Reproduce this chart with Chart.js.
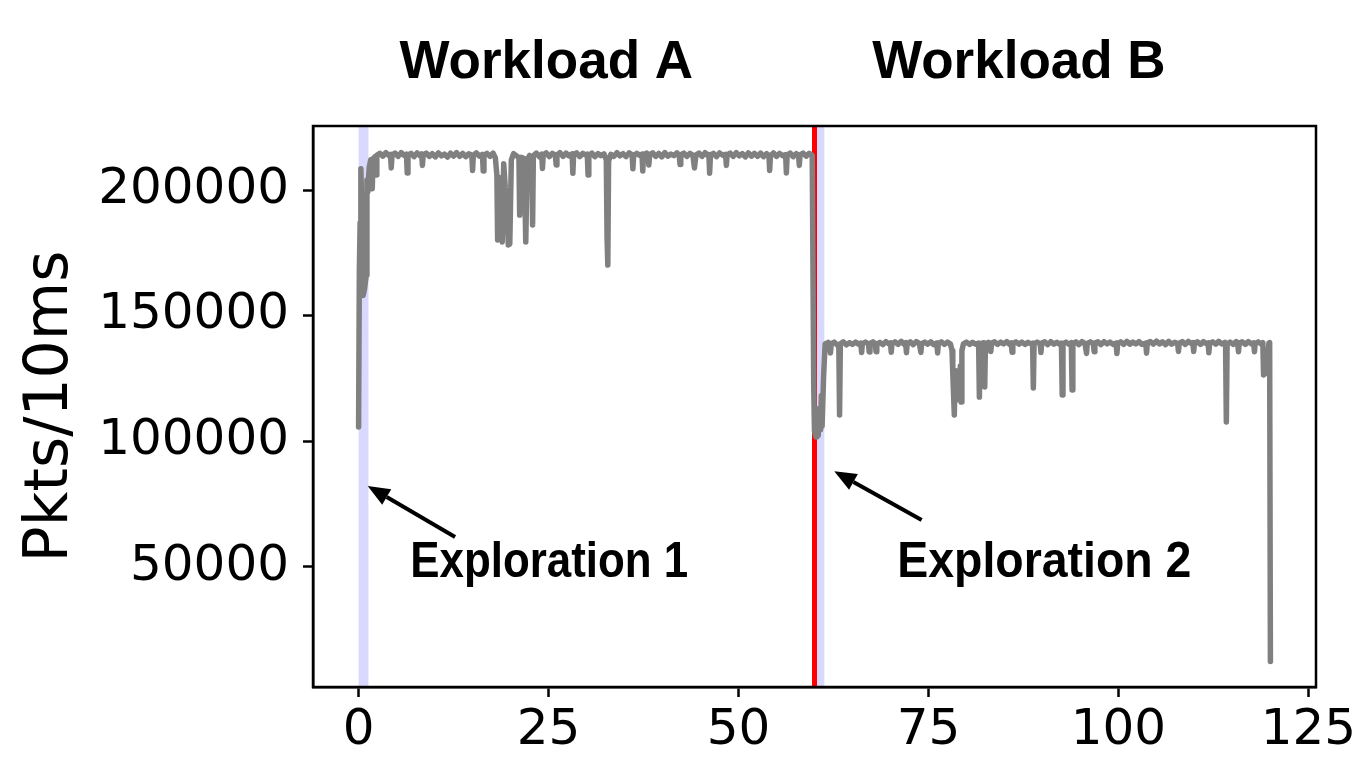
<!DOCTYPE html>
<html>
<head>
<meta charset="utf-8">
<script src="https://cdn.jsdelivr.net/npm/chart.js@4/dist/chart.umd.min.js"></script>
<style>
  body { margin: 0; background: #fff; }
  canvas { display: block; }
</style>
</head>
<body>
<canvas id="throughputChart" width="1365" height="762"></canvas>
<script>
// seconds / packets per 10ms
const timeA = [0, 0.1, 0.2, 0.3, 0.4, 0.5, 0.6, 0.8, 1.0, 1.1,
  1.2, 1.4, 1.6, 1.8, 1.9, 2.2, 2.3, 2.4, 2.8, 3.2,
  3.6, 4.0, 4.2, 4.3, 4.4, 4.8, 5.2, 5.6, 6.0, 6.3,
  6.4, 6.5, 6.9, 7.3, 7.7, 8.1, 8.3, 8.4, 8.5, 8.9,
  9.3, 9.7, 10.1, 10.5, 10.9, 11.3, 11.7, 12.1, 12.5, 12.9,
  13.3, 13.7, 14.1, 14.5, 14.9, 15.0, 15.1, 15.5, 15.9, 16.3,
  16.4, 16.5, 16.9, 17.3, 17.7, 18.0, 18.2, 18.3, 18.5, 18.7,
  18.9, 19.1, 19.3, 19.5, 19.7, 19.9, 20.1, 20.4, 20.8, 21.1,
  21.2, 21.4, 21.8, 22.0, 22.2, 22.5, 22.8, 22.9, 23.0, 23.4,
  23.8, 24.1, 24.2, 24.3, 24.7, 25.1, 25.5, 25.9, 26.0, 26.1,
  26.5, 26.9, 27.3, 27.7, 28.1, 28.2, 28.3, 28.7, 29.1, 29.5,
  29.9, 30.1, 30.2, 30.3, 30.7, 31.1, 31.5, 31.9, 32.3, 32.6,
  32.7, 32.8, 32.9, 33.2, 33.6, 34.0, 34.4, 34.8, 35.2, 35.6,
  36.0, 36.1, 36.2, 36.6, 37.0, 37.3, 37.4, 37.5, 37.9, 38.1,
  38.2, 38.3, 38.7, 39.1, 39.5, 39.9, 40.3, 40.7, 41.1, 41.5,
  41.9, 42.2, 42.3, 42.4, 42.8, 43.2, 43.6, 44.0, 44.2, 44.4,
  44.8, 45.2, 45.6, 46.0, 46.1, 46.2, 46.3, 46.7, 47.1, 47.5,
  47.9, 48.3, 48.4, 48.5, 48.9, 49.3, 49.7, 50.1, 50.5, 50.9,
  51.3, 51.7, 52.1, 52.5, 52.9, 53.3, 53.7, 54.0, 54.1, 54.2,
  54.6, 55.0, 55.4, 55.8, 56.2, 56.3, 56.4, 56.8, 57.2, 57.6,
  57.9, 58.0, 58.1, 58.5, 58.9, 59.3, 59.7];
const pktsA = [105600, 168000, 187000, 208500, 195000, 162000, 158000, 161000, 166000, 204000,
  199000, 209000, 212000, 200500, 212500, 213400, 206000, 213800, 214600, 213500,
  214900, 213700, 214200, 208800, 214000, 214700, 213400, 214900, 213800, 214300,
  206800, 214000, 214600, 213300, 214800, 213600, 214400, 209800, 214100, 214700,
  213400, 214500, 213200, 214800, 213600, 214300, 213100, 214700, 213500, 214900,
  213400, 214600, 213300, 214400, 213900, 207800, 213700, 214800, 213500, 214200,
  207600, 213900, 214600, 213400, 214700, 212800, 206000, 180100, 205000, 186000,
  179300, 210500, 201000, 195000, 178100, 178500, 212000, 214500, 213600, 212900,
  190000, 213000, 212500, 179300, 212000, 213800, 212500, 186100, 213600, 214700,
  213200, 214300, 208600, 214000, 214800, 213300, 214600, 214000, 210000, 213800,
  214900, 213400, 214700, 213600, 214400, 206700, 214000, 214800, 213300, 214600,
  213900, 214300, 206000, 213800, 214700, 213300, 214500, 213700, 214400, 212000,
  181000, 170100, 211500, 214200, 213400, 214900, 213600, 214500, 213300, 214800,
  214000, 208500, 213700, 214600, 213800, 214300, 207600, 213900, 214700, 213800,
  210000, 214200, 214800, 213400, 214600, 213200, 214900, 213500, 214300, 213700,
  214800, 213900, 210200, 214100, 214700, 213400, 214600, 213800, 208800, 214000,
  214700, 213400, 214900, 213600, 214100, 206700, 213800, 214600, 213300, 214800,
  213900, 214200, 209800, 214000, 214700, 213400, 214900, 213600, 214500, 213200,
  214800, 213500, 214600, 213400, 214700, 213300, 214500, 213800, 207800, 213600,
  214800, 213400, 214600, 213700, 214100, 206800, 213900, 214700, 213300, 214500,
  213800, 209800, 214000, 214700, 213500, 214600, 213800];

const timeB = [59.9, 60.0, 60.2, 60.3, 60.5, 60.6, 60.8, 60.9, 61.0, 61.2,
  61.4, 61.8, 62.0, 62.1, 62.2, 62.6, 63.0, 63.2, 63.3, 63.4,
  63.8, 64.2, 64.6, 65.0, 65.4, 65.8, 66.1, 66.2, 66.3, 66.7,
  67.1, 67.2, 67.3, 67.7, 68.0, 68.1, 68.2, 68.6, 69.0, 69.4,
  69.8, 70.0, 70.1, 70.2, 70.6, 71.0, 71.4, 71.8, 72.0, 72.1,
  72.2, 72.6, 73.0, 73.4, 73.8, 74.0, 74.1, 74.5, 74.9, 75.3,
  75.7, 76.1, 76.2, 76.3, 76.7, 77.1, 77.5, 77.9, 78.1, 78.2,
  78.4, 78.5, 78.6, 78.8, 78.9, 79.0, 79.2, 79.3, 79.4, 79.6,
  80.0, 80.4, 80.8, 81.2, 81.6, 81.7, 81.8, 82.2, 82.3, 82.4,
  82.5, 82.9, 83.1, 83.2, 83.3, 83.7, 84.1, 84.5, 84.9, 85.3,
  85.7, 85.9, 86.0, 86.1, 86.5, 86.9, 87.3, 87.7, 88.1, 88.5,
  88.7, 88.8, 88.9, 89.3, 89.7, 89.8, 89.9, 90.3, 90.7, 91.1,
  91.5, 91.9, 92.3, 92.5, 92.6, 92.7, 93.1, 93.5, 93.8, 93.9,
  94.0, 94.4, 94.8, 95.2, 95.6, 95.8, 95.9, 96.3, 96.7, 96.8,
  96.9, 97.3, 97.7, 98.1, 98.5, 98.9, 99.3, 99.7, 99.8, 99.9,
  100.3, 100.7, 101.1, 101.5, 101.9, 102.3, 102.7, 103.1, 103.6, 103.7,
  103.8, 104.2, 104.6, 105.0, 105.4, 105.8, 106.2, 106.6, 107.0, 107.4,
  107.8, 107.9, 108.0, 108.4, 108.8, 109.2, 109.6, 109.8, 109.9, 110.0,
  110.4, 110.8, 111.2, 111.6, 111.8, 111.9, 112.0, 112.4, 112.8, 113.2,
  113.6, 114.0, 114.1, 114.2, 114.3, 114.7, 115.1, 115.5, 115.7, 115.8,
  115.9, 116.3, 116.7, 117.1, 117.5, 117.8, 117.9, 118.0, 118.4, 118.8,
  119.0, 119.1, 119.5, 119.8, 119.9, 120.0];
const pktsB = [121000, 104000, 101600, 110000, 102200, 113000, 104500, 118000, 106000, 126000,
  138700, 139300, 138600, 135100, 138800, 139400, 138200, 138500, 110400, 138700,
  139500, 138300, 139200, 138500, 139400, 138600, 139000, 135300, 138800, 139400,
  138700, 135500, 138900, 139500, 138800, 135600, 138700, 139300, 138400, 139600,
  138700, 139100, 135400, 138800, 139500, 138500, 139700, 138600, 139200, 135200,
  138900, 139500, 138400, 139600, 138900, 135300, 138800, 139400, 138600, 139500,
  138400, 139100, 135100, 138800, 139500, 138500, 139400, 138600, 136000, 127000,
  110400, 128000, 118000, 116500, 127000, 119000, 130000, 115500, 136000, 138700,
  139400, 138500, 139300, 138600, 139000, 117500, 138700, 139100, 137000, 121500,
  138600, 139300, 138800, 135700, 139000, 139500, 138500, 139400, 138700, 139600,
  138500, 139100, 135400, 138900, 139500, 138600, 139400, 138500, 139300, 138700,
  139000, 121100, 138800, 139400, 138700, 135300, 139000, 139500, 138400, 139600,
  138600, 139300, 138500, 139000, 118300, 138800, 139400, 138500, 139200, 120300,
  138900, 139500, 138400, 139600, 138800, 134900, 138900, 139500, 138800, 135600,
  139000, 139500, 138400, 139600, 138700, 139400, 138500, 139000, 134900, 138800,
  139500, 138500, 139700, 138600, 139400, 138700, 139600, 138500, 139000, 135000,
  139100, 139600, 138600, 139800, 138700, 139500, 138400, 139700, 138600, 139300,
  138800, 135700, 139000, 139600, 138500, 139700, 138800, 139200, 135700, 139000,
  139500, 138500, 139600, 138700, 139100, 135200, 138900, 139500, 138600, 139700,
  138700, 139300, 138800, 107600, 138600, 139400, 138500, 139600, 138900, 135600,
  139000, 139500, 138500, 139600, 138700, 139100, 135600, 138900, 139500, 138600,
  139200, 126300, 127500, 139000, 139200, 12200];

const xTicks = [0, 25, 50, 75, 100, 125];
const yTicks = [50000, 100000, 150000, 200000];
const explorationStart = [0, 60];
const explorationEnd = [1.3, 61.3];
const switchTime = 60;
const workloadNames = ['Workload A', 'Workload B'];
const workloadCenters = [24.7, 86.9];
const explorationLabels = ['Exploration 1', 'Exploration 2'];
const explorationLabelX = [6.8, 70.9];
const explorationLabelY = 45800;
// arrow tail -> head, in data units
const arrowTail = [[12.7, 61800], [74.1, 68500]];
const arrowHead = [[1.2, 82100], [62.6, 88000]];

const points = timeA.map((t, i) => ({ x: t, y: pktsA[i] }))
  .concat(timeB.map((t, i) => ({ x: t, y: pktsB[i] })));

function drawArrow(ctx, x0, y0, x1, y1) {
  const ang = Math.atan2(y1 - y0, x1 - x0);
  const headLen = 22, headW = 9;
  const bx = x1 - headLen * Math.cos(ang), by = y1 - headLen * Math.sin(ang);
  ctx.beginPath();
  ctx.moveTo(x0, y0);
  ctx.lineTo(bx, by);
  ctx.lineWidth = 4;
  ctx.strokeStyle = '#000';
  ctx.stroke();
  ctx.beginPath();
  ctx.moveTo(x1, y1);
  ctx.lineTo(bx + headW * Math.sin(ang), by - headW * Math.cos(ang));
  ctx.lineTo(bx - headW * Math.sin(ang), by + headW * Math.cos(ang));
  ctx.closePath();
  ctx.fillStyle = '#000';
  ctx.fill();
}

const decor = {
  id: 'decor',
  beforeDatasetsDraw(chart) {
    const { ctx, chartArea: a, scales: { x } } = chart;
    ctx.save();
    ctx.fillStyle = 'rgba(0, 0, 255, 0.15)';
    for (let i = 0; i < explorationStart.length; i++) {
      const x0 = x.getPixelForValue(explorationStart[i]);
      const x1 = x.getPixelForValue(explorationEnd[i]);
      ctx.fillRect(x0, a.top, x1 - x0, a.bottom - a.top);
    }
    ctx.strokeStyle = '#ff0000';
    ctx.lineWidth = 5;
    ctx.beginPath();
    ctx.moveTo(x.getPixelForValue(switchTime), a.top);
    ctx.lineTo(x.getPixelForValue(switchTime), a.bottom);
    ctx.stroke();
    ctx.restore();
  },
  afterDraw(chart) {
    const { ctx, chartArea: a, scales: { x, y } } = chart;
    ctx.save();
    ctx.strokeStyle = '#000';
    ctx.lineWidth = 2.5;
    ctx.strokeRect(a.left, a.top, a.right - a.left, a.bottom - a.top);

    ctx.fillStyle = '#000';
    ctx.textBaseline = 'alphabetic';
    ctx.textAlign = 'center';
    ctx.font = 'bold 53px "Liberation Sans", Arial, sans-serif';
    workloadNames.forEach((name, i) => {
      ctx.fillText(name, x.getPixelForValue(workloadCenters[i]), a.top - 48);
    });

    ctx.textAlign = 'left';
    ctx.font = 'bold 50px "Liberation Sans", Arial, sans-serif';
    const widths = [278, 294];
    explorationLabels.forEach((label, i) => {
      ctx.fillText(label, x.getPixelForValue(explorationLabelX[i]), y.getPixelForValue(explorationLabelY), widths[i]);
    });

    for (let i = 0; i < arrowTail.length; i++) {
      drawArrow(ctx,
        x.getPixelForValue(arrowTail[i][0]), y.getPixelForValue(arrowTail[i][1]),
        x.getPixelForValue(arrowHead[i][0]), y.getPixelForValue(arrowHead[i][1]));
    }
    ctx.restore();
  }
};

const tickFont = { family: "'DejaVu Sans', sans-serif", size: 50 };
const axisGrid = { drawOnChartArea: false, drawTicks: true, tickLength: 10, tickWidth: 2.5, tickColor: '#000' };

new Chart('throughputChart', {
  type: 'line',
  data: {
    datasets: [{
      data: points,
      borderColor: '#808080',
      borderWidth: 5.5,
      borderJoinStyle: 'round',
      borderCapStyle: 'round',
      pointRadius: 0,
      tension: 0,
      fill: false
    }]
  },
  options: {
    responsive: false,
    animation: false,
    layout: { padding: { top: 126, right: 49, left: 0, bottom: 0 } },
    plugins: { legend: { display: false }, tooltip: { enabled: false } },
    scales: {
      x: {
        type: 'linear',
        min: -6,
        max: 126,
        afterBuildTicks: s => { s.ticks = xTicks.map(v => ({ value: v })); },
        afterFit: s => { s.height = 75; },
        ticks: { font: tickFont, color: '#000', padding: 4, maxRotation: 0, autoSkip: false,
          callback: v => String(v) },
        grid: axisGrid,
        border: { display: true, color: '#000', width: 2.5 }
      },
      y: {
        min: 2000,
        max: 225500,
        afterBuildTicks: s => { s.ticks = yTicks.map(v => ({ value: v })); },
        afterFit: s => { s.width = 313; },
        ticks: { font: tickFont, color: '#000', padding: 14, callback: v => String(v) },
        grid: axisGrid,
        border: { display: true, color: '#000', width: 2.5 },
        title: {
          display: true,
          text: 'Pkts/10ms',
          color: '#000',
          font: { family: "'DejaVu Sans', sans-serif", size: 60 },
          padding: { top: 15, bottom: 0 }
        }
      }
    }
  },
  plugins: [decor]
});
</script>
</body>
</html>
